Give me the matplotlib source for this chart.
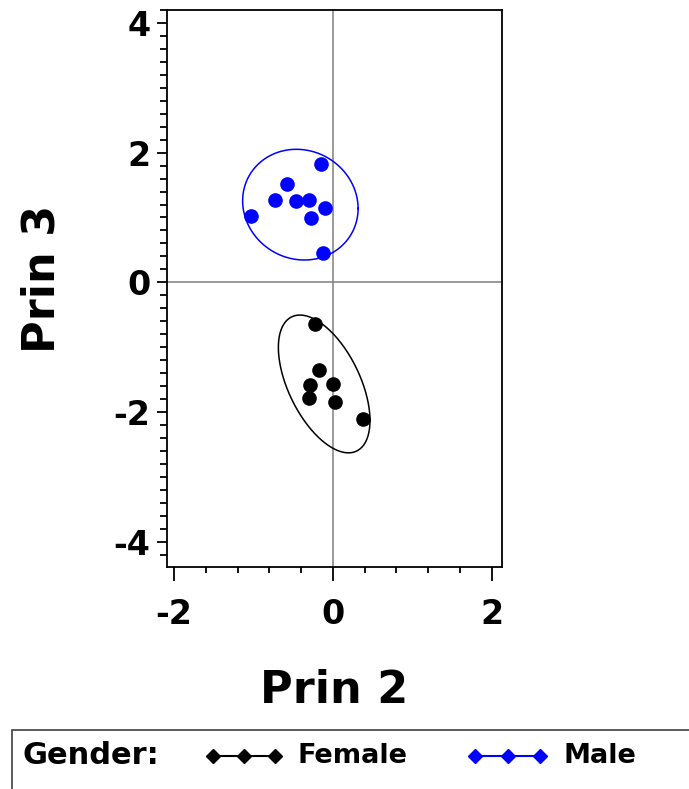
import numpy as np
import matplotlib
matplotlib.use('Agg')
import matplotlib.pyplot as plt
from matplotlib.lines import Line2D
from matplotlib.patches import Rectangle
from matplotlib.ticker import MultipleLocator

# principal component scores
female_prin2 = [-0.23, -0.17, -0.29, 0.00, -0.30, 0.03, 0.38]
female_prin3 = [-0.65, -1.35, -1.58, -1.57, -1.78, -1.85, -2.10]
male_prin2 = [-0.15, -0.58, -0.73, -0.47, -0.30, -0.10, -0.27, -1.03, -0.13]
male_prin3 = [1.83, 1.52, 1.27, 1.25, 1.27, 1.14, 0.99, 1.02, 0.46]

# ellipse centres and covariance (prin2, prin3)
female_center = [-0.11, -1.567]
female_cov = [[0.333, -0.325], [-0.325, 1.129]]
male_center = [-0.41, 1.198]
male_cov = [[0.529, -0.043], [-0.043, 0.729]]

groups = ['Female', 'Male']
colors = ['black', '#0000ff']

plt.rcParams['font.family'] = 'DejaVu Sans'
plt.rcParams['font.weight'] = 'bold'

fig = plt.figure(figsize=(6.89, 7.89), dpi=100)
ax = fig.add_axes([167/689, 1-567/789, 335/689, 557/789])

ax.axhline(0, color='#808080', lw=1.1, zorder=1)
ax.axvline(0, color='#808080', lw=1.1, zorder=1)

t = np.linspace(0, 2*np.pi, 300)
data = [(female_prin2, female_prin3, female_center, female_cov),
        (male_prin2, male_prin3, male_center, male_cov)]
for (px, py, c, cov), col in zip(data, colors):
    L = np.linalg.cholesky(np.array(cov))
    e = L @ np.vstack([np.cos(t), np.sin(t)])
    ax.plot(c[0] + e[0], c[1] + e[1], color=col, lw=1.1, zorder=2)
    ax.plot(px, py, 'o', color=col, ms=9.5, mec=col, zorder=3)

ax.set_xlim(-2.09, 2.13)
ax.set_ylim(-4.39, 4.20)
ax.set_xticks([-2, 0, 2])
ax.set_yticks([-4, -2, 0, 2, 4])
ax.xaxis.set_minor_locator(MultipleLocator(0.4))
ax.yaxis.set_minor_locator(MultipleLocator(0.2))
for s in ax.spines.values():
    s.set_linewidth(1.3)
ax.tick_params(axis='x', which='major', length=10, width=1.3, pad=12, labelsize=24)
ax.tick_params(axis='x', which='minor', length=4.5, width=1.3)
ax.tick_params(axis='y', which='major', length=7, width=1.3, pad=5, labelsize=24)
ax.tick_params(axis='y', which='minor', length=5, width=1.3)
ax.set_xticklabels(['-2', '0', '2'])
ax.set_yticklabels(['-4', '-2', '0', '2', '4'])

ax.set_xlabel('Prin 2', fontsize=32, fontweight='bold', va='center')
ax.xaxis.set_label_coords(0.5, -0.221)
ax.set_ylabel('Prin 3', fontsize=32, fontweight='bold', va='center')
ax.yaxis.set_label_coords(-0.373, 0.517)

# legend strip at the bottom
fig.add_artist(Rectangle((12/689, -0.05), 1.0, (789-730)/789 + 0.05,
                         transform=fig.transFigure, fill=False,
                         ec='#404040', lw=1.2))
ly = 1 - 756/789
fig.text(22/689, ly, 'Gender:', fontsize=22, fontweight='bold', va='center')
for name, col, xs, tx in zip(groups, colors, [(213, 244, 275), (475, 508, 540)], [298, 564]):
    fig.add_artist(Line2D(np.array(xs)/689, [ly]*3, transform=fig.transFigure,
                          color=col, lw=1.5, marker='D', ms=7))
    fig.text(tx/689, ly, name, fontsize=19.5, fontweight='bold', va='center')

plt.savefig('out.png', dpi=100)
